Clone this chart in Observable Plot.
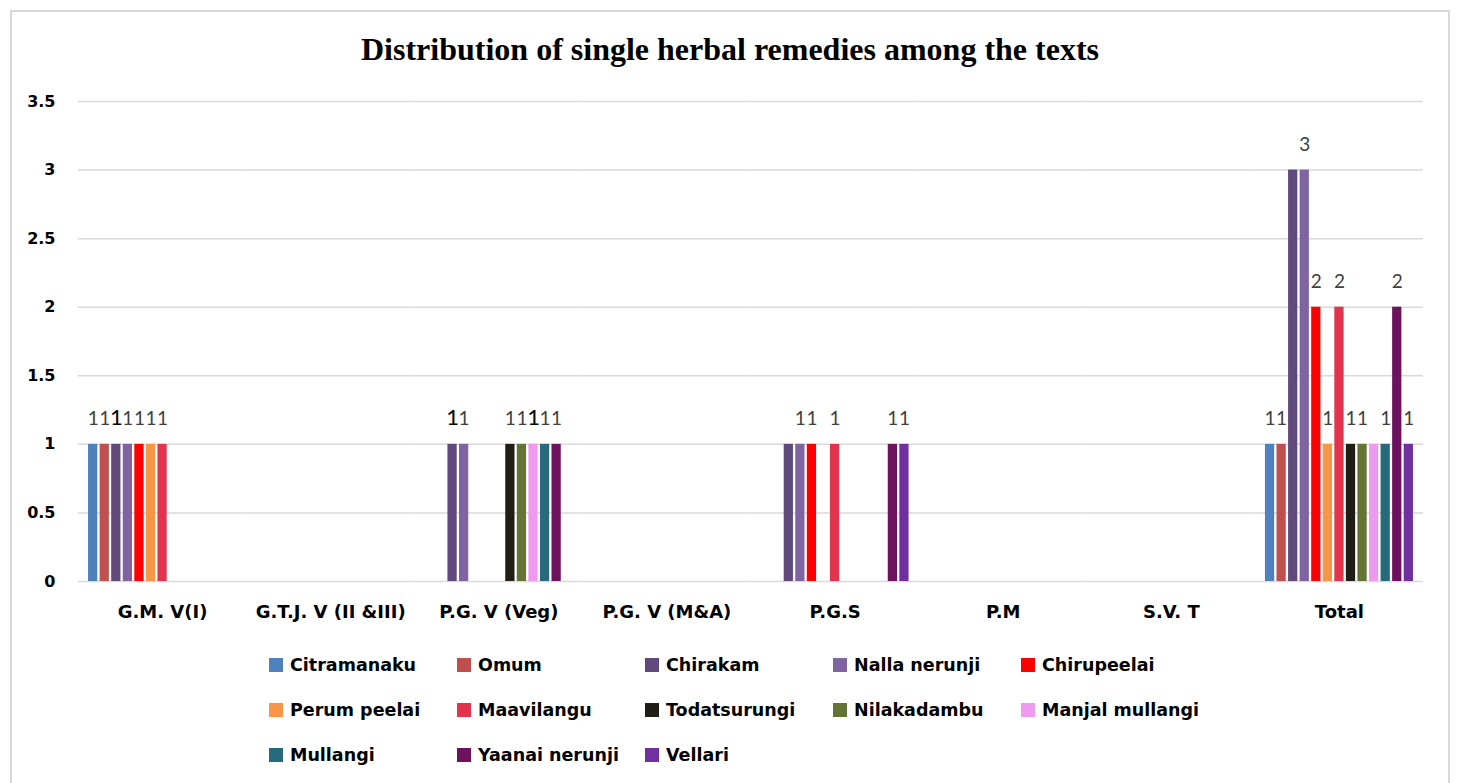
<!DOCTYPE html>
<html>
<head>
<meta charset="utf-8">
<script src="https://cdn.jsdelivr.net/npm/d3@7"></script>
<script src="https://cdn.jsdelivr.net/npm/@observablehq/plot@0.6"></script>
<style>
  html, body { margin: 0; padding: 0; background: #fff; }
  body { width: 1459px; height: 783px; position: relative; overflow: hidden; font-family: "DejaVu Sans", sans-serif; }
  #frame { position: absolute; left: 10px; top: 10px; width: 1440px; height: 800px; border: 2px solid #D9D9D9; box-sizing: border-box; }
  #title { position: absolute; left: 10px; width: 1440px; top: 31px; text-align: center; font-family: "Liberation Serif", "Times New Roman", serif; font-weight: bold; font-size: 32px; color: #000; }
  #chart { position: absolute; left: 0; top: 80px; }
  #legend { position: absolute; left: 269px; top: 652px; display: grid; grid-template-columns: repeat(5, 188px); grid-auto-rows: 45px; }
  .item { display: flex; align-items: center; height: 26px; font-family: "DejaVu Sans", sans-serif; font-weight: bold; font-size: 17.5px; color: #000; white-space: nowrap; }
  .sw { width: 14px; height: 14px; margin-right: 7px; flex: none; }
</style>
</head>
<body>
<div id="frame"></div>
<div id="title">Distribution of single herbal remedies among the texts</div>
<div id="chart"></div>
<div id="legend"></div>
<script>
const groups = ["G.M. V(I)", "G.T.J. V (II &III)", "P.G. V (Veg)", "P.G. V (M&A)", "P.G.S", "P.M", "S.V. T", "Total"];
const series = ["Citramanaku", "Omum", "Chirakam", "Nalla nerunji", "Chirupeelai", "Perum peelai", "Maavilangu", "Todatsurungi", "Nilakadambu", "Manjal mullangi", "Mullangi", "Yaanai nerunji", "Vellari"];
const colors = ["#4F81BD", "#C0504D", "#604A7B", "#8064A2", "#FF0000", "#F79646", "#E4334C", "#201E14", "#637434", "#EE9AEE", "#266A7B", "#6D135E", "#7030A0"];
// values per series, in the order of groups
const citramanaku   = [1, 0, 0, 0, 0, 0, 0, 1];
const omum          = [1, 0, 0, 0, 0, 0, 0, 1];
const chirakam      = [1, 0, 1, 0, 1, 0, 0, 3];
const nallaNerunji  = [1, 0, 1, 0, 1, 0, 0, 3];
const chirupeelai   = [1, 0, 0, 0, 1, 0, 0, 2];
const perumPeelai   = [1, 0, 0, 0, 0, 0, 0, 1];
const maavilangu    = [1, 0, 0, 0, 1, 0, 0, 2];
const todatsurungi  = [0, 0, 1, 0, 0, 0, 0, 1];
const nilakadambu   = [0, 0, 1, 0, 0, 0, 0, 1];
const manjalMullangi= [0, 0, 1, 0, 0, 0, 0, 1];
const mullangi      = [0, 0, 1, 0, 0, 0, 0, 1];
const yaanaiNerunji = [0, 0, 1, 0, 1, 0, 0, 2];
const vellari       = [0, 0, 0, 0, 1, 0, 0, 1];
const yTicks = [0, 0.5, 1, 1.5, 2, 2.5, 3, 3.5];
// data labels drawn larger / not shown in the original
const emphasizedLabels = [["G.M. V(I)", "Chirakam"], ["P.G. V (Veg)", "Chirakam"], ["P.G. V (Veg)", "Manjal mullangi"]];
const hiddenLabels = [["P.G.S", "Chirakam"], ["Total", "Chirakam"], ["Total", "Manjal mullangi"]];

const valueSets = [citramanaku, omum, chirakam, nallaNerunji, chirupeelai, perumPeelai, maavilangu, todatsurungi, nilakadambu, manjalMullangi, mullangi, yaanaiNerunji, vellari];
const rows = [];
series.forEach((s, i) => groups.forEach((g, j) => {
  rows.push({group: g, series: s, value: valueSets[i][j]});
}));
const nonzero = rows.filter(r => r.value > 0);
const has = (list, r) => list.some(([g, s]) => g === r.group && s === r.series);
const normalLabels = nonzero.filter(r => !has(hiddenLabels, r) && !has(emphasizedLabels, r));
const bigLabels = nonzero.filter(r => has(emphasizedLabels, r));

const chart = Plot.plot({
  width: 1459,
  height: 551,
  marginLeft: 78,
  marginRight: 36,
  marginTop: 21,
  marginBottom: 50,
  style: {fontFamily: "'DejaVu Sans', sans-serif", background: "transparent"},
  fx: {domain: groups, padding: 0, round: false},
  x: {domain: series, paddingInner: 0.2, paddingOuter: 0.87, round: false, axis: null},
  y: {domain: [0, 3.5]},
  color: {domain: series, range: colors},
  marks: [
    Plot.ruleY(yTicks, {stroke: "#D9D9D9", strokeWidth: 1.5}),
    Plot.axisY(yTicks, {tickSize: 0, tickPadding: 23, fontSize: 16, fontWeight: "bold", fill: "#000", label: null, tickFormat: d => String(d)}),
    Plot.axisFx({anchor: "bottom", tickSize: 0, tickPadding: 24, fontSize: 18, fontWeight: "bold", fill: "#000", label: null}),
    Plot.barY(rows, {fx: "group", x: "series", y: "value", fill: "series"}),
    Plot.text(normalLabels, {fx: "group", x: "series", y: "value", text: d => String(d.value), dy: -25, fontSize: 19, fill: "#404040", fontFamily: "Lato, sans-serif"}),
    Plot.text(bigLabels, {fx: "group", x: "series", y: "value", text: d => String(d.value), dy: -26, fontSize: 22, fill: "#000", fontFamily: "Lato, sans-serif"})
  ]
});
document.getElementById("chart").appendChild(chart);

const legend = document.getElementById("legend");
series.forEach((s, i) => {
  const item = document.createElement("div");
  item.className = "item";
  const sw = document.createElement("span");
  sw.className = "sw";
  sw.style.background = colors[i];
  item.appendChild(sw);
  item.appendChild(document.createTextNode(s));
  legend.appendChild(item);
});
</script>
</body>
</html>
